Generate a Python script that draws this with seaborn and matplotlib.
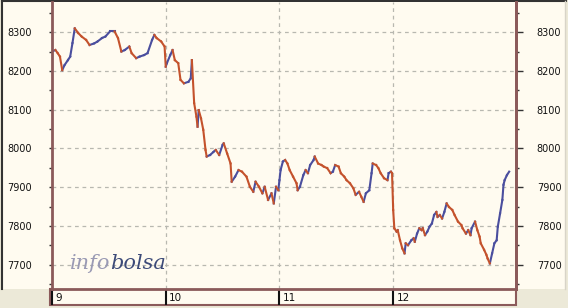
import numpy as np
import pandas as pd
import matplotlib
matplotlib.use("Agg")
import matplotlib.pyplot as plt
from matplotlib.patches import Rectangle
from matplotlib.lines import Line2D
from matplotlib import transforms
import seaborn as sns

# ---- data (time in trading-day units from the start of day 9, index level) ----
day_labels = ["9", "10", "11", "12"]

t_day9 = [0.00, 0.03, 0.05, 0.07, 0.09, 0.11, 0.14, 0.16, 0.18, 0.20, 0.23, 0.26,
          0.30, 0.33, 0.37, 0.40, 0.44, 0.47, 0.51, 0.55, 0.58, 0.61, 0.64, 0.68,
          0.70, 0.74, 0.77, 0.81, 0.84, 0.88, 0.90, 0.92, 0.96, 0.99]
p_day9 = [8250, 8254, 8246, 8237, 8202, 8215, 8228, 8237, 8272, 8310, 8298, 8289,
          8280, 8267, 8271, 8276, 8285, 8289, 8302, 8302, 8285, 8250, 8254, 8263,
          8246, 8233, 8237, 8241, 8246, 8280, 8293, 8285, 8276, 8263]

t_day10 = [1.00, 1.01, 1.04, 1.06, 1.08, 1.11, 1.13, 1.16, 1.20, 1.22, 1.23, 1.25,
           1.27, 1.28, 1.29, 1.31, 1.33, 1.35, 1.36, 1.39, 1.42, 1.44, 1.47, 1.50,
           1.51, 1.54, 1.57, 1.58, 1.61, 1.64, 1.67, 1.71, 1.74, 1.77, 1.79, 1.82,
           1.85, 1.87, 1.90, 1.93, 1.95, 1.97, 1.99]
p_day10 = [8211, 8220, 8241, 8254, 8228, 8220, 8177, 8168, 8172, 8181, 8228, 8117,
           8082, 8056, 8099, 8078, 8048, 7996, 7979, 7983, 7991, 7996, 7983, 8009,
           8013, 7987, 7961, 7914, 7927, 7944, 7940, 7927, 7901, 7888, 7914, 7901,
           7884, 7901, 7867, 7884, 7858, 7901, 7892]

t_day11 = [2.00, 2.01, 2.03, 2.05, 2.07, 2.09, 2.12, 2.15, 2.16, 2.18, 2.21, 2.23,
           2.25, 2.27, 2.30, 2.31, 2.34, 2.37, 2.39, 2.42, 2.45, 2.47, 2.49, 2.52,
           2.54, 2.57, 2.59, 2.62, 2.65, 2.67, 2.70, 2.72, 2.74, 2.76, 2.79, 2.81,
           2.82, 2.85, 2.87, 2.89, 2.92, 2.95, 2.96, 2.98]
p_day11 = [7918, 7944, 7966, 7970, 7961, 7944, 7927, 7910, 7892, 7901, 7931, 7944,
           7936, 7957, 7970, 7979, 7961, 7957, 7953, 7949, 7936, 7940, 7957, 7953,
           7936, 7927, 7918, 7910, 7897, 7880, 7888, 7875, 7862, 7884, 7892, 7936,
           7961, 7957, 7949, 7936, 7923, 7918, 7936, 7940]

t_day12 = [2.99, 3.00, 3.01, 3.03, 3.04, 3.06, 3.08, 3.10, 3.11, 3.13, 3.16, 3.18,
           3.19, 3.21, 3.23, 3.25, 3.26, 3.28, 3.30, 3.32, 3.34, 3.36, 3.38, 3.39,
           3.41, 3.43, 3.45, 3.47, 3.49, 3.52, 3.54, 3.57, 3.60, 3.61, 3.64, 3.66,
           3.68, 3.69, 3.72, 3.74, 3.76, 3.77, 3.80, 3.82, 3.83, 3.85, 3.87, 3.89,
           3.91, 3.92, 3.94, 3.96, 3.97, 3.98, 4.00, 4.02]
p_day12 = [7936, 7841, 7794, 7785, 7789, 7763, 7742, 7729, 7755, 7750, 7763, 7768,
           7759, 7780, 7794, 7789, 7794, 7776, 7785, 7798, 7806, 7828, 7836, 7823,
           7828, 7819, 7836, 7858, 7849, 7841, 7828, 7811, 7802, 7794, 7780, 7789,
           7776, 7794, 7811, 7789, 7772, 7755, 7738, 7725, 7716, 7703, 7729, 7755,
           7763, 7798, 7832, 7867, 7906, 7918, 7931, 7940]

y_ticks = [7700, 7800, 7900, 8000, 8100, 8200, 8300]

# ---- build segment table (each step coloured by direction) ----
t_all = t_day9 + t_day10 + t_day11 + t_day12
p_all = p_day9 + p_day10 + p_day11 + p_day12
rows = []
for i in range(len(t_all) - 1):
    d = "up" if p_all[i + 1] >= p_all[i] else "down"
    rows.append((i, t_all[i], p_all[i], d))
    rows.append((i, t_all[i + 1], p_all[i + 1], d))
df = pd.DataFrame(rows, columns=["seg", "t", "price", "dir"])

# ---- figure ----
W, H = 568, 308
cream = "#FFFBF0"
brown = "#8B5A5A"
fig = plt.figure(figsize=(W / 100, H / 100), dpi=100)
fig.patch.set_facecolor("#ECE9D8")

def fx(x):
    return x / W

def fy(y):
    return 1 - y / H

# main cream panel
fig.add_artist(Rectangle((fx(2), fy(289)), fx(564), (289 - 1) / H,
                         facecolor=cream, edgecolor="none", zorder=-3))
fig.add_artist(Line2D([fx(2), fx(2)], [fy(289), fy(1)], color="#333333", lw=1.5, zorder=-2))
fig.add_artist(Line2D([fx(2), fx(566)], [fy(1), fy(1)], color="#333333", lw=1.5, zorder=-2))
fig.add_artist(Line2D([fx(565), fx(565)], [fy(289), fy(1)], color="#D8D4C8", lw=1, zorder=-2))
# x-label strip
fig.add_artist(Rectangle((fx(50), fy(305)), fx(466), 16 / H,
                         facecolor=cream, edgecolor=brown, lw=1.5, zorder=-1))

ax = fig.add_axes([fx(52), fy(289), fx(516 - 52), (289 - 2) / H])
ax.set_facecolor(cream)

sns.lineplot(data=df, x="t", y="price", hue="dir", units="seg", estimator=None,
             sort=False, palette={"up": "#4A4E9E", "down": "#C4522C"},
             linewidth=1.5, legend=False, ax=ax)

ax.set_xlim(0, 4.08)
ax.set_ylim(7637, 8378)
ax.set_xlabel("")
ax.set_ylabel("")

# grid
for yv in y_ticks:
    ax.axhline(yv, color="#B8B8B0", lw=0.9, ls=(0, (3, 3)), zorder=0)
for xv in [1, 2, 3]:
    ax.axvline(xv, color="#B8B8B0", lw=0.9, ls=(0, (3, 3)), zorder=0)

# spines
for s in ["left", "right", "bottom"]:
    ax.spines[s].set_color(brown)
    ax.spines[s].set_linewidth(2)
ax.spines["top"].set_visible(False)

# y axis left
ax.set_yticks(y_ticks)
ax.set_yticks([v + 50 for v in y_ticks] + [7650], minor=True)
ax.tick_params(axis="y", which="both", left=True, right=False, length=2.5,
               width=1, color="#333333", labelsize=7, pad=12, labelcolor="#111111")
ax.set_yticklabels([str(v) for v in y_ticks], fontfamily="DejaVu Sans")

# y axis right
ax2 = ax.twinx()
ax2.set_ylim(ax.get_ylim())
ax2.set_yticks(y_ticks)
ax2.set_yticks([v + 50 for v in y_ticks] + [7650], minor=True)
ax2.tick_params(axis="y", which="major", length=5, width=1, color="#333333",
                labelsize=7, pad=10, labelcolor="#111111")
ax2.tick_params(axis="y", which="minor", length=2.5, width=1, color="#333333")
ax2.set_yticklabels([str(v) for v in y_ticks], fontfamily="DejaVu Sans")
for s in ["left", "top", "bottom"]:
    ax2.spines[s].set_visible(False)
ax2.spines["right"].set_color(brown)
ax2.spines["right"].set_linewidth(2)

# x axis: day ticks in strip
ax.set_xticks([0, 1, 2, 3])
ax.set_xticklabels([])
ax.tick_params(axis="x", which="major", direction="out", length=11.5, width=1.5,
               color="#111111", bottom=True)
trans = transforms.blended_transform_factory(ax.transData, ax.transAxes)
for i, lab in enumerate(day_labels):
    ax.text(i + 0.03, -9 / 287, lab, transform=trans, ha="left", va="center",
            fontsize=7.5, color="#111111", fontfamily="DejaVu Sans", clip_on=False)

# watermark
t1 = fig.text(fx(70), fy(269), "info", fontsize=15, style="italic",
              fontfamily="DejaVu Serif", color="#9A9AB4", va="baseline", ha="left")
fig.canvas.draw()
bb = t1.get_window_extent(renderer=fig.canvas.get_renderer())
fig.text(bb.x1 / W, fy(269), "bolsa", fontsize=15, style="italic",
         fontfamily="DejaVu Serif", color="#3C4A78", va="baseline", ha="left")

fig.savefig("out.png", dpi=100, facecolor=fig.get_facecolor())
